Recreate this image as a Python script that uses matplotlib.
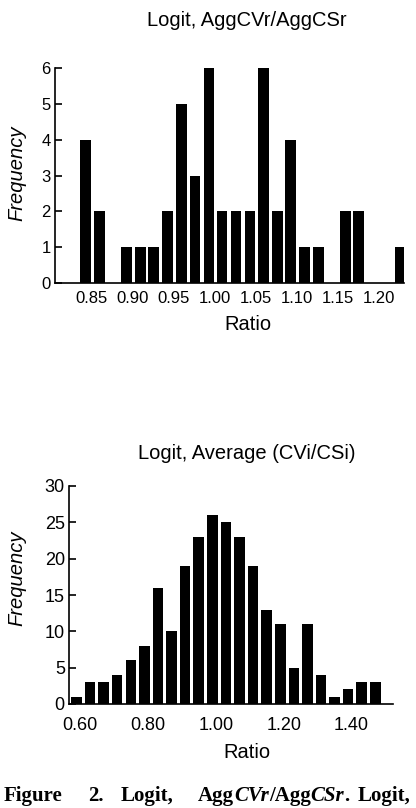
import matplotlib
matplotlib.use("Agg")
import matplotlib.pyplot as plt

# top histogram: Logit, AggCVr/AggCSr
agg_centers = [0.843, 0.860, 0.877, 0.893, 0.910, 0.926, 0.943, 0.960,
               0.976, 0.993, 1.009, 1.026, 1.043, 1.059, 1.076, 1.092,
               1.109, 1.126, 1.142, 1.159, 1.175, 1.192, 1.209, 1.225]
agg_counts = [4, 2, 0, 1, 1, 1, 2, 5, 3, 6, 2, 2, 2, 6, 2, 4,
              1, 1, 0, 2, 2, 0, 0, 1]
agg_xticks = [0.85, 0.90, 0.95, 1.00, 1.05, 1.10, 1.15, 1.20]
agg_yticks = [0, 1, 2, 3, 4, 5, 6]

# bottom histogram: Logit, Average (CVi/CSi)
avg_centers = [0.59, 0.63, 0.67, 0.71, 0.75, 0.79, 0.83, 0.87, 0.91, 0.95,
               0.99, 1.03, 1.07, 1.11, 1.15, 1.19, 1.23, 1.27, 1.31, 1.35,
               1.39, 1.43, 1.47]
avg_counts = [1, 3, 3, 4, 6, 8, 16, 10, 19, 23, 26, 25, 23, 19, 13, 11,
              5, 11, 4, 1, 2, 3, 3]
avg_xticks = [0.60, 0.80, 1.00, 1.20, 1.40]
avg_yticks = [0, 5, 10, 15, 20, 25, 30]

plt.rcParams['font.family'] = ['Liberation Sans', 'DejaVu Sans']

fig = plt.figure(figsize=(4.16, 8.08), dpi=100)
W, H = 416.0, 808.0


def style_axes(ax, tick_size, xpad):
    for s in ['top', 'right']:
        ax.spines[s].set_visible(False)
    for s in ['left', 'bottom']:
        ax.spines[s].set_linewidth(1.2)
    ax.tick_params(axis='y', direction='in', length=5, width=1.2,
                   labelsize=tick_size, pad=3)
    ax.tick_params(axis='x', length=0, labelsize=tick_size, pad=xpad)


ax1 = fig.add_axes([55 / W, 1 - 283 / H, 349 / W, 215 / H])
ax1.bar(agg_centers, agg_counts, width=0.013, color='black')
ax1.set_xlim(0.806, 1.230)
ax1.set_ylim(0, 6)
ax1.set_xticks(agg_xticks, ['%.2f' % v for v in agg_xticks])
ax1.set_yticks(agg_yticks)
style_axes(ax1, 12, 6)

ax2 = fig.add_axes([69 / W, 1 - 704 / H, 324 / W, 218 / H])
ax2.bar(avg_centers, avg_counts, width=0.031, color='black')
ax2.set_xlim(0.568, 1.522)
ax2.set_ylim(0, 30)
ax2.set_xticks(avg_xticks, ['%.2f' % v for v in avg_xticks])
ax2.set_yticks(avg_yticks)
style_axes(ax2, 13, 9)

# titles and axis labels
fig.text(247 / W, 1 - 20 / H, 'Logit, AggCVr/AggCSr', ha='center',
         va='center', fontsize=14.5)
fig.text(247 / W, 1 - 453 / H, 'Logit, Average (CVi/CSi)', ha='center',
         va='center', fontsize=14.5)
fig.text(248 / W, 1 - 324 / H, 'Ratio', ha='center', va='center',
         fontsize=14.5)
fig.text(247 / W, 1 - 753 / H, 'Ratio', ha='center', va='center',
         fontsize=14.5)
fig.text(17 / W, 1 - 173 / H, 'Frequency', ha='center', va='center',
         rotation=90, style='italic', fontsize=14.5)
fig.text(17 / W, 1 - 578 / H, 'Frequency', ha='center', va='center',
         rotation=90, style='italic', fontsize=14.5)

# caption, bold serif with italic pieces
renderer = fig.canvas.get_renderer()
cap_y = 1 - 801 / H
words = [
    (4, [('Figure', 'normal')]),
    (88, [('2.', 'normal')]),
    (121, [('Logit,', 'normal')]),
    (198, [('Agg', 'normal'), ('CVr', 'italic'), ('/Agg', 'normal'),
           ('CSr', 'italic'), ('.', 'normal')]),
    (358, [('Logit,', 'normal')]),
]
for x0, runs in words:
    x = x0
    for txt, st in runs:
        t = fig.text(x / W, cap_y, txt, ha='left', va='baseline',
                     fontsize=15, fontweight='bold', style=st,
                     family='Liberation Serif')
        x += t.get_window_extent(renderer).width

fig.savefig('out.png', dpi=100)
